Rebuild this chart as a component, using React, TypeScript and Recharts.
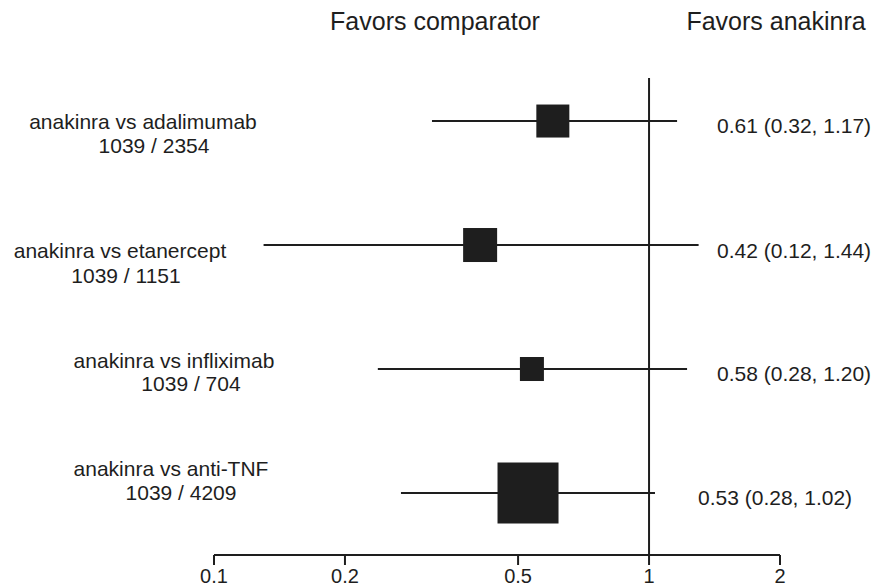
import React from 'react';
import { ComposedChart, XAxis, YAxis, Scatter, ReferenceLine } from 'recharts';

// ---- data ----
const comparisons = [
  'anakinra vs adalimumab',
  'anakinra vs etanercept',
  'anakinra vs infliximab',
  'anakinra vs anti-TNF',
];
const sampleSizes = ['1039 / 2354', '1039 / 1151', '1039 / 704', '1039 / 4209'];
const estimates = [0.601, 0.409, 0.538, 0.527];
const lowerBounds = [0.317, 0.13, 0.238, 0.269];
const upperBounds = [1.16, 1.3, 1.223, 1.032];
const estimateLabels = [
  '0.61 (0.32, 1.17)',
  '0.42 (0.12, 1.44)',
  '0.58 (0.28, 1.20)',
  '0.53 (0.28, 1.02)',
];
const boxWeights = [33, 34, 24, 61];
const xTicks = [0.1, 0.2, 0.5, 1, 2];
const headerLeft = 'Favors comparator';
const headerRight = 'Favors anakinra';

// ---- layout / style ----
const W = 879;
const H = 587;
const INK = '#1e1e1e';
const FONT = '"Liberation Sans", Arial, Helvetica, sans-serif';
const BOX_MAX = 61;
const labelLayout = [
  { c1: 143, d1: 0, c2: 154, d2: 24, ciX: 717, ciD: 4 },
  { c1: 120, d1: 5, c2: 126, d2: 30, ciX: 717, ciD: 5 },
  { c1: 174, d1: -9, c2: 191, d2: 14, ciX: 717, ciD: 4 },
  { c1: 171, d1: -25, c2: 181, d2: -1, ciX: 698, ciD: 4 },
];

const rows = comparisons.map((c, i) => ({
  row: i + 1,
  label: c,
  n: sampleSizes[i],
  est: estimates[i],
  lo: lowerBounds[i],
  hi: upperBounds[i],
  ci: estimateLabels[i],
  w: boxWeights[i],
}));
const maxW = Math.max(...boxWeights);

const RowTick = (props: any) => {
  const { y, payload } = props;
  const i = Math.round(payload.value) - 1;
  const r = rows[i];
  const L = labelLayout[i];
  if (!r) return null;
  const fs = 21;
  const off = fs * 0.36;
  return (
    <g fontFamily={FONT} fontSize={fs} fill={INK}>
      <text x={L.c1} y={y + L.d1 + off} textAnchor="middle" fill={INK}>
        {r.label}
      </text>
      <text x={L.c2} y={y + L.d2 + off} textAnchor="middle" fill={INK}>
        {r.n}
      </text>
      <text x={L.ciX} y={y + L.ciD + off} textAnchor="start" fill={INK}>
        {r.ci}
      </text>
    </g>
  );
};

const Box = (props: any) => {
  const { cx, cy, payload } = props;
  const s = (payload.w / maxW) * BOX_MAX;
  return <rect x={cx - s / 2} y={cy - s / 2} width={s} height={s} fill={INK} />;
};

export default function App() {
  return (
    <div style={{ position: 'absolute', left: 0, top: 0, width: W, height: H, background: '#fff' }}>
      <svg
        width={W}
        height={60}
        style={{ position: 'absolute', left: 0, top: 0 }}
        fontFamily={FONT}
      >
        <text x={435} y={30} textAnchor="middle" fontSize={25} fill={INK}>
          {headerLeft}
        </text>
        <text x={776} y={30} textAnchor="middle" fontSize={25} fill={INK}>
          {headerRight}
        </text>
      </svg>
      <div style={{ position: 'absolute', left: 0, top: 0 }}>
        <ComposedChart
          width={W}
          height={H}
          data={rows}
          margin={{ top: 78, right: 99, bottom: 0, left: 0 }}
        >
          <XAxis
            type="number"
            dataKey="est"
            scale="log"
            domain={[0.1, 2]}
            ticks={xTicks}
            allowDataOverflow
            height={32}
            tickSize={10}
            tickMargin={4}
            interval={0}
            stroke={INK}
            strokeWidth={2}
            tickFormatter={(v: number) => String(v)}
            tick={{ fontSize: 20, fill: INK, fontFamily: FONT }}
          />
          <YAxis
            type="number"
            dataKey="row"
            domain={[0.653, 4.5]}
            reversed
            ticks={rows.map((r) => r.row)}
            interval={0}
            width={214}
            axisLine={false}
            tickLine={false}
            tick={<RowTick />}
            allowDataOverflow
          />
          <ReferenceLine x={1} stroke={INK} strokeWidth={2} ifOverflow="visible" />
          {rows.map((r) => (
            <ReferenceLine
              key={'ci' + r.row}
              segment={[
                { x: r.lo, y: r.row },
                { x: r.hi, y: r.row },
              ]}
              stroke={INK}
              strokeWidth={2}
              ifOverflow="visible"
            />
          ))}
          <Scatter dataKey="est" shape={<Box />} isAnimationActive={false} />
        </ComposedChart>
      </div>
    </div>
  );
}
